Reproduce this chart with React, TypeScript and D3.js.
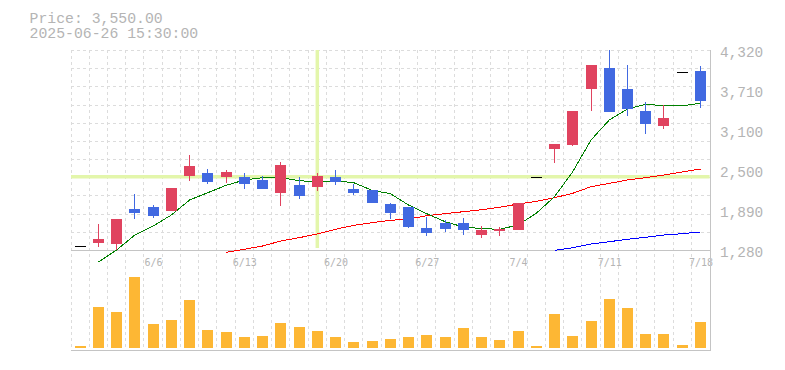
import React from "react";
import * as d3 from "d3";

const dates = [
  "6/2","6/3","6/4","6/5","6/6","6/9","6/10","6/11","6/12","6/13",
  "6/16","6/17","6/18","6/19","6/20","6/23","6/24","6/25","6/26","6/27",
  "6/30","7/1","7/2","7/3","7/4","7/7","7/8","7/9","7/10","7/11",
  "7/14","7/15","7/16","7/17","7/18",
];
const tickLabels = ["6/6", "6/13", "6/20", "6/27", "7/4", "7/11", "7/18"];
const priceTicks = [1280, 1890, 2500, 3100, 3710, 4320];

const open = [1335,1391,1371,1903,1934,1877,2409,2450,2390,2390,2344,2151,2268,2242,2390,2207,2192,1979,1934,1614,1690,1690,1513,1569,1584,2390,2820,2876,3732,4046,3727,3393,3169,3981,4001];
const high = [1335,1675,1751,2131,1964,2222,2724,2511,2496,2450,2405,2618,2390,2450,2496,2288,2195,1994,1934,1786,1736,1766,1645,1630,1994,2390,2891,3393,4092,4320,4092,3530,3484,3981,4077];
const low = [1335,1330,1280,1751,1771,1877,2333,2288,2298,2212,2212,1953,2060,2181,2273,2121,1989,1756,1619,1497,1558,1513,1467,1497,1584,2390,2607,2861,3397,3382,3321,3048,3124,3981,3443];
const close = [1335,1447,1751,1847,1801,2222,2557,2318,2466,2288,2212,2572,2105,2405,2318,2151,1999,1847,1634,1543,1604,1588,1579,1599,1994,2390,2891,3393,4092,3382,3428,3200,3286,3981,3549];
const volume = [2000,41000,36000,71300,24000,28000,48000,18000,16000,11000,12000,25000,21000,17000,11000,6000,7300,9000,11000,13000,11000,20000,11000,8000,17000,2000,34000,12000,27000,49000,40000,14000,14000,3000,26000];

const ma5 = [null,1098,1280,1508,1645,1812,2040,2151,2263,2344,2379,2379,2333,2318,2333,2303,2187,2136,1964,1832,1710,1630,1605,1595,1660,1838,2090,2470,2952,3256,3423,3494,3473,3473,3510];
const ma25 = [null,null,null,null,null,null,null,null,1245,1291,1341,1417,1467,1523,1595,1655,1695,1731,1751,1801,1832,1862,1893,1929,1979,2020,2075,2142,2242,2293,2344,2379,2420,2466,2511];
const ma75 = [null,null,null,null,null,null,null,null,null,null,null,null,null,null,null,null,null,null,null,null,null,null,null,null,null,null,1275,1315,1371,1406,1443,1473,1508,1528,1554];

const priceLabel = "Price: 3,550.00";
const timeLabel = "2025-06-26 15:30:00";
const crosshairIndex = 13;
const crosshairPrice = 2395;

const W = 785;
const H = 370;
const L = 71;
const R = 709.6;
const PT = 50;
const PB = 250;
const VB = 350;

const UP = "#e0435f";
const DOWN = "#4169e1";
const VOL = "#fdb734";
const GRID = "#dcdcdc";
const AXIS = "#c4c4c4";
const TEXT = "#b4b4b4";
const FONT = "'DejaVu Sans Mono', monospace";
const FONT_BIG = "'Liberation Mono', 'DejaVu Sans Mono', monospace";

export default function App() {
  const idx = dates.map((_, i) => i);
  const x = d3.scaleBand<number>().domain(idx).range([L, R]).padding(0);
  const step = x.step();
  const cx = (i: number) => (x(i) as number) + step / 2;
  const y = d3.scaleLinear().domain([1280, 4320]).range([PB, PT]);
  const yv = d3.scaleLinear().domain([0, 100000]).range([348, 248]);

  const hGrid = d3.range(12).map((k) => PT + (k * (PB - PT)) / 11);
  const vGrid = idx.map((i) => Math.floor(x(i) as number) + 0.5);

  const mkLine = (arr: (number | null)[]) =>
    d3
      .line<number | null>()
      .defined((d) => d !== null)
      .x((_, i) => cx(i))
      .y((d) => y(d as number))(arr) || "";

  const bw = 11;

  return (
    <svg
      width={W}
      height={H}
      style={{ position: "absolute", left: 0, top: 0, background: "#fff" }}
      fontFamily={FONT}
    >
      {/* grid */}
      <g stroke={GRID} strokeDasharray="3,3" shapeRendering="crispEdges">
        {hGrid.slice(0, 11).map((gy, k) => (
          <line key={"h" + k} x1={L} x2={R} y1={Math.round(gy) + 0.5} y2={Math.round(gy) + 0.5} />
        ))}
        {vGrid.map((gx, k) => (
          <line key={"v" + k} x1={gx} x2={gx} y1={PT} y2={VB} />
        ))}
      </g>

      {/* x labels */}
      <g fill={TEXT} fontSize={10} textAnchor="middle">
        {tickLabels.map((t) => {
          const i = dates.indexOf(t);
          return (
            <text key={t} x={cx(i) + 0.5} y={266}>
              {t}
            </text>
          );
        })}
      </g>

      {/* axes */}
      <g stroke={AXIS} shapeRendering="crispEdges">
        <line x1={L} x2={Math.round(R) + 0.5} y1={PB + 0.5} y2={PB + 0.5} />
        <line x1={L} x2={Math.round(R) + 0.5} y1={VB + 0.5} y2={VB + 0.5} />
        <line x1={Math.round(R) + 0.5} x2={Math.round(R) + 0.5} y1={PT} y2={VB + 1} />
      </g>

      {/* y labels */}
      <g fill={TEXT} fontSize={14.4} fontFamily={FONT_BIG}>
        {priceTicks.map((t) => (
          <text key={t} x={720} y={y(t) + 7}>
            {d3.format(",")(t)}
          </text>
        ))}
      </g>

      {/* crosshair */}
      <g stroke="#e3f6ab" strokeWidth={3.5}>
        <line x1={cx(crosshairIndex)} x2={cx(crosshairIndex)} y1={PT} y2={PB - 2} />
        <line x1={L} x2={R} y1={y(crosshairPrice)} y2={y(crosshairPrice)} />
      </g>

      {/* volume */}
      <g fill={VOL} shapeRendering="crispEdges">
        {volume.map((v, i) => (
          <rect key={i} x={Math.round(cx(i) - bw / 2)} y={yv(v)} width={bw} height={348 - yv(v)} />
        ))}
      </g>

      {/* moving averages */}
      <g fill="none" strokeWidth={1} shapeRendering="crispEdges">
        <path d={mkLine(ma75)} stroke="#0000ff" />
        <path d={mkLine(ma25)} stroke="#ff0000" />
        <path d={mkLine(ma5)} stroke="#008000" />
      </g>

      {/* candles */}
      <g shapeRendering="crispEdges">
        {idx.map((i) => {
          const o = open[i], c = close[i], h = high[i], l = low[i];
          const left = Math.round(cx(i) - bw / 2);
          const mid = left + 5.5;
          if (o === c && h === l) {
            return (
              <line key={i} x1={left} x2={left + bw} y1={Math.round(y(c)) + 0.5} y2={Math.round(y(c)) + 0.5} stroke="#000" />
            );
          }
          const col = c >= o ? UP : DOWN;
          const top = Math.min(y(o), y(c));
          const bot = Math.max(y(o), y(c));
          return (
            <g key={i}>
              <line x1={mid} x2={mid} y1={y(h)} y2={y(l)} stroke={col} />
              <rect x={left} y={top} width={bw} height={Math.max(1, bot - top)} fill={col} />
            </g>
          );
        })}
      </g>

      {/* header */}
      <text fill={TEXT} fontSize={14.8} fontFamily={FONT_BIG}>
        <tspan x={29.5} y={22.7}>{priceLabel}</tspan>
        <tspan x={29.5} y={37.7}>{timeLabel}</tspan>
      </text>
    </svg>
  );
}
